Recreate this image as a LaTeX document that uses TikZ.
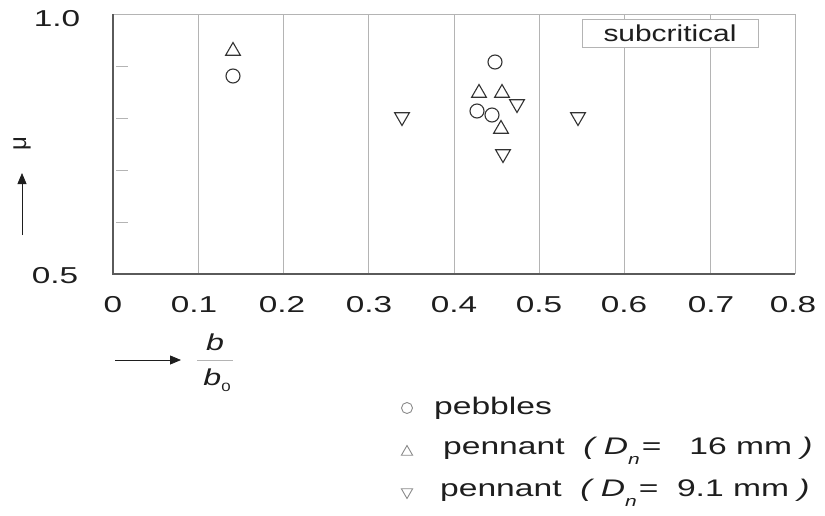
\documentclass[tikz,border=0pt]{standalone}
\usepackage{fontspec}
\setmainfont{Liberation Sans}
\newfontfamily\tickfont[FakeStretch=1.45]{Liberation Sans}
\newfontfamily\legfont[FakeStretch=1.4]{Liberation Sans}
\newfontfamily\boxfont[FakeStretch=1.3]{Liberation Sans}
\usetikzlibrary{shapes.geometric,arrows.meta}
\definecolor{gridc}{HTML}{B4B4B4}
\definecolor{axisc}{HTML}{5A5A5A}
\definecolor{markc}{HTML}{333333}
\definecolor{txtc}{HTML}{1E1E1E}
\definecolor{legm}{HTML}{8A8A8A}
\tikzset{
  gridline/.style={draw=gridc, line width=1pt},
  axisline/.style={draw=axisc, line width=1.6pt},
  ytickmark/.style={draw=gridc, line width=1pt},
  ticklab/.style={font=\tickfont\fontsize{23}{23}\selectfont, text=txtc, inner sep=0pt},
  pcirc/.style={circle, draw=markc, line width=1.1pt, minimum size=14pt, inner sep=0pt},
  ptri/.style={regular polygon, regular polygon sides=3, draw=markc, line width=1.1pt, minimum size=17pt, inner sep=0pt},
  pdtri/.style={ptri, shape border rotate=180},
  lcirc/.style={circle, draw=legm, line width=0.9pt, minimum size=11pt, inner sep=0pt},
  ltri/.style={regular polygon, regular polygon sides=3, draw=legm, line width=0.9pt, minimum size=13pt, inner sep=0pt},
  ldtri/.style={ltri, shape border rotate=180},
  legtext/.style={font=\legfont\fontsize{24}{24}\selectfont, text=txtc, anchor=west, inner sep=0pt},
  axarrow/.style={draw=txtc, line width=0.8pt, -{Triangle[length=11pt,width=9pt]}},
  boxlab/.style={draw=gridc, fill=white, line width=1pt, minimum width=176pt, minimum height=28pt, inner sep=0pt, font=\boxfont\fontsize{23}{23}\selectfont, text=txtc}
}
\begin{document}
\begin{tikzpicture}[x=1pt,y=-1pt]
\useasboundingbox (0,0) rectangle (825,515);
% grid
\foreach \i in {1,...,7} {
  \draw[gridline] ({113+85.3*\i},14) -- ({113+85.3*\i},274);
}
\draw[gridline] (113,14) -- (795.4,14) -- (795.4,274);
\foreach \yy in {66,118,170,222} {
  \draw[ytickmark] (116,\yy) -- (128,\yy);
}
\draw[axisline] (113,14) -- (113,274) -- (795.4,274);
% subcritical box
\node[boxlab] (sub) at (670,33) {subcritical};
% y labels
\node[ticklab] (y1) at (57,19) {1.0};
\node[ticklab] (y05) at (55,276) {0.5};
% x labels
\node[ticklab] (x0) at (113,305) {0};
\node[ticklab] (x1) at (194,305) {0.1};
\node[ticklab] (x2) at (282,305) {0.2};
\node[ticklab] (x3) at (369,305) {0.3};
\node[ticklab] (x4) at (454,305) {0.4};
\node[ticklab] (x5) at (539,305) {0.5};
\node[ticklab] (x6) at (624,305) {0.6};
\node[ticklab] (x7) at (711,305) {0.7};
\node[ticklab] (x8) at (793,305) {0.8};
% mu axis label
\node[font=\fontsize{24}{24}\selectfont, text=txtc, rotate=90, inner sep=0pt] (mu) at (22,144) {μ};
\coordinate (muA) at (22,235);
\coordinate (muB) at (22,173);
\draw[axarrow] (muA) -- (muB);
% b/b0 axis label
\coordinate (bA) at (115,360);
\coordinate (bB) at (181,360);
\draw[axarrow] (bA) -- (bB);
\node[font=\legfont\itshape\fontsize{23}{23}\selectfont, text=txtc, inner sep=0pt] (bnum) at (215,342) {b};
\draw[draw=gridc, line width=1pt] (197,360) -- (233,360);
\node[font=\legfont\itshape\fontsize{23}{23}\selectfont, text=txtc, inner sep=0pt] (bden) at (217,380) {b\raisebox{-0.25em}{\upshape\fontsize{12}{12}\selectfont 0}};
% data points
\node[ptri] (p1) at (233,51) {};
\node[pcirc] (p2) at (233,76) {};
\node[pdtri] (p3) at (402,117) {};
\node[pcirc] (p4) at (495,62) {};
\node[ptri] (p5) at (479,93) {};
\node[ptri] (p6) at (502,93) {};
\node[pdtri] (p7) at (517,104) {};
\node[pcirc] (p8) at (477,111) {};
\node[pcirc] (p9) at (492,115) {};
\node[ptri] (p10) at (501,129) {};
\node[pdtri] (p11) at (503,154) {};
\node[pdtri] (p12) at (578,117) {};
% legend
\node[lcirc] (l1) at (407,408) {};
\node[legtext] (t1) at (434,408) {pebbles};
\node[ltri] (l2) at (407,452) {};
\node[legtext] (t2) at (443,451) {pennant \ {\itshape ( D\raisebox{-0.4em}{\fontsize{15}{15}\selectfont n}}\kern2pt= \ \ 16 mm {\itshape )}};
\node[ldtri] (l3) at (407,492) {};
\node[legtext] (t3) at (440,493) {pennant \ {\itshape ( D\raisebox{-0.4em}{\fontsize{15}{15}\selectfont n}}\kern2pt= \ 9.1 mm {\itshape )}};
\end{tikzpicture}
\end{document}
